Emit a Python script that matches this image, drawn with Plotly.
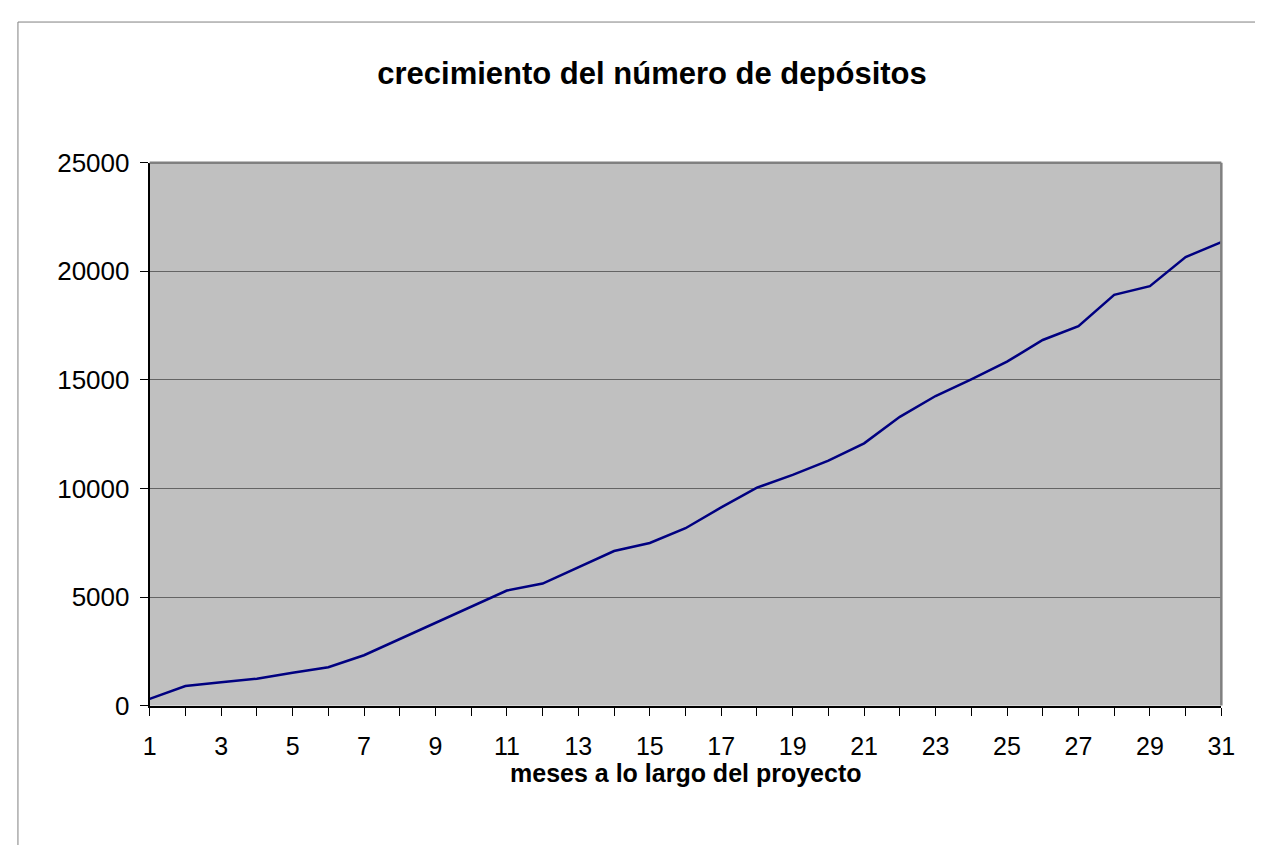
import plotly.graph_objects as go

# meses del proyecto y número acumulado de depósitos
meses = list(range(1, 32))
depositos = [310, 900, 1080, 1240, 1510, 1770, 2320, 3070, 3790, 4560,
             5300, 5620, 6360, 7120, 7490, 8170, 9130, 10040, 10630, 11280,
             12080, 13300, 14260, 15030, 15840, 16840, 17480, 18920, 19320, 20660,
             21350]

# the page has an 8px body margin, so keep the figure inside the window
OFF = 8
W, H = 1263 - 2 * OFF, 853 - 2 * OFF


def px(x):
    return (x - OFF) / W


def py(y):
    return 1 - (y - OFF) / H


x0, x1 = 145, 1235
y_top, y_bot = 153, 716

fig = go.Figure()
fig.add_trace(go.Scatter(x=meses, y=depositos, mode="lines",
                         line=dict(color="#000080", width=2.5),
                         showlegend=False))

font = "Arial, Liberation Sans, sans-serif"

fig.update_layout(
    width=W, height=H,
    margin=dict(l=0, r=0, t=0, b=0),
    paper_bgcolor="white",
    plot_bgcolor="#C0C0C0",
    font=dict(family=font, color="black", size=25),
    title=dict(text="<b>crecimiento del número de depósitos</b>",
               x=px(652), y=py(73), xanchor="center", yanchor="middle",
               font=dict(size=31, family=font)),
    xaxis=dict(domain=[px(x0), px(x1)], range=[1, 31],
               tickmode="linear", tick0=1, dtick=2,
               ticks="outside", ticklen=8, tickcolor="black",
               showline=True, linecolor="black", linewidth=2,
               showgrid=False, zeroline=False,
               minor=dict(tick0=1, dtick=1, ticks="outside", ticklen=8,
                          tickcolor="black", showgrid=False),
               tickfont=dict(size=25), ticklabelstandoff=9),
    yaxis=dict(domain=[py(y_bot), py(y_top)], range=[0, 25000],
               tickmode="linear", tick0=0, dtick=5000, tickformat="d",
               ticks="outside", ticklen=8, tickcolor="black",
               showline=True, linecolor="black", linewidth=2,
               showgrid=True, gridcolor="#646464", gridwidth=1,
               zeroline=False, tickfont=dict(size=26), ticklabelstandoff=5),
    annotations=[dict(text="<b>meses a lo largo del proyecto</b>",
                      x=px(690), y=py(786), xref="paper", yref="paper",
                      xanchor="center", yanchor="middle", showarrow=False,
                      font=dict(size=25, family=font))],
    shapes=[
        # marco exterior del gráfico
        dict(type="rect", xref="paper", yref="paper",
             x0=px(11), y0=-0.05, x1=1.05, y1=py(7),
             line=dict(color="#808080", width=1), layer="below"),
        # bordes superior y derecho del área de trazado
        dict(type="line", xref="paper", yref="paper",
             x0=px(x0), x1=px(x1), y0=py(y_top), y1=py(y_top),
             line=dict(color="#808080", width=2.5)),
        dict(type="line", xref="paper", yref="paper",
             x0=px(x1), x1=px(x1), y0=py(y_top), y1=py(y_bot),
             line=dict(color="#808080", width=2.5)),
    ],
)

fig.write_html("out.html")
